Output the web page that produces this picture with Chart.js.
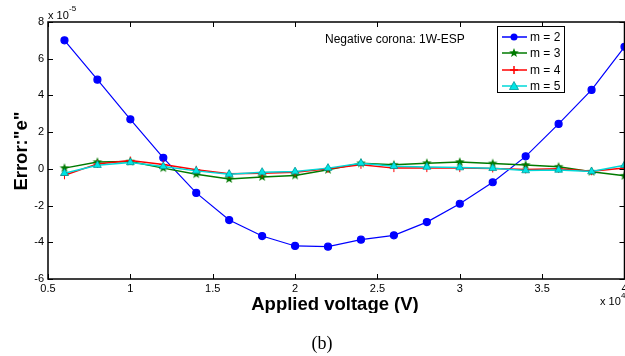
<!DOCTYPE html>
<html>
<head>
<meta charset="utf-8">
<script src="https://cdn.jsdelivr.net/npm/chart.js@4"></script>
<style>
  html, body { margin: 0; padding: 0; background: #fff; overflow: hidden; }
  #wrap { width: 625px; height: 356px; position: relative; overflow: hidden; }
</style>
</head>
<body>
<div id="wrap"><canvas id="errChart" width="630" height="356"></canvas></div>
<script>
// applied voltage (x 10^4 V)
const voltage = [0.6, 0.8, 1.0, 1.2, 1.4, 1.6, 1.8, 2.0, 2.2, 2.4, 2.6, 2.8, 3.0, 3.2, 3.4, 3.6, 3.8, 4.0];
// error values (x 10^-5)
const m2 = [7.0, 4.86, 2.7, 0.6, -1.31, -2.79, -3.66, -4.2, -4.24, -3.86, -3.62, -2.9, -1.9, -0.73, 0.68, 2.45, 4.3, 6.65];
const m3 = [0.04, 0.37, 0.4, 0.04, -0.29, -0.55, -0.44, -0.36, -0.05, 0.3, 0.22, 0.31, 0.37, 0.29, 0.21, 0.11, -0.16, -0.38];
const m4 = [-0.35, 0.27, 0.45, 0.24, -0.05, -0.27, -0.24, -0.18, 0.0, 0.22, 0.04, 0.04, 0.04, 0.02, -0.03, 0.0, -0.13, 0.05];
const m5 = [-0.24, 0.2, 0.35, 0.13, -0.11, -0.29, -0.18, -0.15, 0.04, 0.31, 0.14, 0.1, 0.07, 0.03, -0.09, -0.06, -0.15, 0.2];
const xTicks = [0.5, 1, 1.5, 2, 2.5, 3, 3.5, 4];
const yTicks = [-6, -4, -2, 0, 2, 4, 6, 8];

const seriesNames = ['m = 2', 'm = 3', 'm = 4', 'm = 5'];

// filled pentagram marker like matlab 'p'
function starCanvas(color, r) {
  const c = document.createElement('canvas');
  const s = Math.ceil(r * 2 + 2);
  c.width = s; c.height = s;
  const g = c.getContext('2d');
  g.beginPath();
  for (let i = 0; i < 10; i++) {
    const rad = i % 2 === 0 ? r : r * 0.42;
    const a = -Math.PI / 2 + i * Math.PI / 5;
    const px = s / 2 + rad * Math.cos(a), py = s / 2 + rad * Math.sin(a);
    if (i === 0) g.moveTo(px, py); else g.lineTo(px, py);
  }
  g.closePath();
  g.fillStyle = color;
  g.fill();
  return c;
}
const starImg = starCanvas('#007a00', 5);

function pts(arr) {
  return arr.map((v, i) => ({ x: voltage[i], y: v }));
}

const ctx = document.getElementById('errChart');
const sans = '"Liberation Sans", Arial, sans-serif';

const extras = {
  id: 'extras',
  afterDraw(chart) {
    const g = chart.ctx;
    const xs = chart.scales.x, ys = chart.scales.y;
    const a = chart.chartArea;
    g.save();
    // frame
    g.strokeStyle = '#000';
    g.lineWidth = 1.5;
    g.strokeRect(a.left, a.top, a.right - a.left, a.bottom - a.top);
    // inward ticks on all sides
    g.lineWidth = 1;
    xTicks.forEach(t => {
      const px = Math.round(xs.getPixelForValue(t)) + 0.5;
      g.beginPath();
      g.moveTo(px, a.bottom); g.lineTo(px, a.bottom - 5);
      g.moveTo(px, a.top); g.lineTo(px, a.top + 5);
      g.stroke();
    });
    yTicks.forEach(t => {
      const py = Math.round(ys.getPixelForValue(t)) + 0.5;
      g.beginPath();
      g.moveTo(a.left, py); g.lineTo(a.left + 5, py);
      g.moveTo(a.right, py); g.lineTo(a.right - 5, py);
      g.stroke();
    });

    g.fillStyle = '#000';
    // exponent labels
    g.font = '11px ' + sans;
    g.textAlign = 'left';
    g.textBaseline = 'alphabetic';
    g.fillText('x 10', 48, 19);
    g.font = '8px ' + sans;
    g.fillText('-5', 69, 11);
    g.font = '11px ' + sans;
    g.fillText('x 10', 600, 305);
    g.font = '8px ' + sans;
    g.fillText('4', 621, 298);

    // axis titles (x title bottom is cut off in the original)
    g.font = 'bold 18.5px ' + sans;
    g.textAlign = 'center';
    g.textBaseline = 'middle';
    g.save();
    g.beginPath();
    g.rect(0, 290, 625, 23);
    g.clip();
    g.fillText('Applied voltage (V)', 335, 305);
    g.restore();
    g.save();
    g.translate(22, 151);
    g.rotate(-Math.PI / 2);
    g.fillText('Error:"e"', 0, 0);
    g.restore();

    // panel label
    g.font = '18px "Liberation Serif", "Times New Roman", serif';
    g.fillText('(b)', 322, 344);

    // annotation
    g.font = '12px ' + sans;
    g.textAlign = 'left';
    g.fillText('Negative corona: 1W-ESP', 325, 40);

    // legend
    const lx = 497, ly = 26, lw = 67, lh = 66;
    g.fillStyle = '#fff';
    g.fillRect(lx, ly, lw, lh);
    g.strokeStyle = '#000';
    g.lineWidth = 1;
    g.strokeRect(lx + 0.5, ly + 0.5, lw, lh);
    const rows = [37, 53, 70, 86];
    chart.data.datasets.forEach((ds, i) => {
      const y = rows[i];
      g.strokeStyle = ds.borderColor;
      g.lineWidth = 1.5;
      g.beginPath();
      g.moveTo(502, y); g.lineTo(527, y);
      g.stroke();
      const cx = 514;
      if (i === 0) {
        g.fillStyle = ds.pointBackgroundColor;
        g.beginPath(); g.arc(cx, y, 3.5, 0, Math.PI * 2); g.fill();
      } else if (i === 1) {
        g.drawImage(starImg, cx - starImg.width / 2, y - starImg.height / 2);
      } else if (i === 2) {
        g.beginPath();
        g.moveTo(cx - 4, y); g.lineTo(cx + 4, y);
        g.moveTo(cx, y - 4); g.lineTo(cx, y + 4);
        g.stroke();
      } else {
        g.fillStyle = ds.pointBackgroundColor;
        g.beginPath();
        g.moveTo(cx, y - 4.5); g.lineTo(cx + 4.5, y + 3.5); g.lineTo(cx - 4.5, y + 3.5);
        g.closePath(); g.fill();
        g.strokeStyle = ds.pointBorderColor;
        g.lineWidth = 0.8; g.stroke();
      }
      g.fillStyle = '#000';
      g.font = '12px ' + sans;
      g.textBaseline = 'middle';
      g.fillText(seriesNames[i], 530, y + 1);
    });
    g.restore();
  }
};

new Chart(ctx, {
  type: 'line',
  data: {
    datasets: [
      {
        label: seriesNames[0],
        data: pts(m2),
        borderColor: '#0000ff',
        backgroundColor: '#0000ff',
        pointBackgroundColor: '#0000ff',
        pointBorderColor: '#0000ff',
        pointStyle: 'circle',
        pointRadius: 3.5,
        borderWidth: 1.2,
        tension: 0,
        order: 4
      },
      {
        label: seriesNames[1],
        data: pts(m3),
        borderColor: '#007a00',
        backgroundColor: '#007a00',
        pointBackgroundColor: '#007a00',
        pointBorderColor: '#007a00',
        pointStyle: starImg,
        borderWidth: 1.5,
        tension: 0,
        order: 3
      },
      {
        label: seriesNames[2],
        data: pts(m4),
        borderColor: '#ff0000',
        backgroundColor: '#ff0000',
        pointBackgroundColor: '#ff0000',
        pointBorderColor: '#ff0000',
        pointStyle: 'cross',
        pointRadius: 4,
        pointBorderWidth: 1,
        borderWidth: 1.5,
        tension: 0,
        order: 2
      },
      {
        label: seriesNames[3],
        data: pts(m5),
        borderColor: '#00d8d8',
        backgroundColor: '#00e0e0',
        pointBackgroundColor: '#00e5e5',
        pointBorderColor: '#009999',
        pointStyle: 'triangle',
        pointRadius: 4.5,
        pointBorderWidth: 0.8,
        borderWidth: 1.5,
        tension: 0,
        order: 1
      }
    ]
  },
  options: {
    responsive: false,
    animation: false,
    events: [],
    layout: { padding: { left: 0, top: 22, right: 0, bottom: 0 } },
    plugins: {
      legend: { display: false },
      tooltip: { enabled: false }
    },
    scales: {
      x: {
        type: 'linear',
        min: 0.5,
        max: 4,
        afterBuildTicks: s => { s.ticks = xTicks.map(v => ({ value: v })); },
        afterFit: s => { s.height = 77; s.paddingLeft = 0; s.paddingRight = 0; },
        grid: { display: false, drawTicks: false },
        border: { display: false },
        ticks: {
          color: '#000',
          padding: 3,
          font: { family: sans, size: 11 },
          maxRotation: 0,
          callback: v => String(v)
        }
      },
      y: {
        type: 'linear',
        min: -6,
        max: 8,
        afterBuildTicks: s => { s.ticks = yTicks.map(v => ({ value: v })); },
        afterFit: s => { s.width = 48; s.paddingTop = 0; s.paddingBottom = 0; },
        grid: { display: false, drawTicks: false },
        border: { display: false },
        ticks: {
          color: '#000',
          padding: 4,
          font: { family: sans, size: 11 },
          callback: v => String(v)
        }
      }
    }
  },
  plugins: [extras]
});
</script>
</body>
</html>
